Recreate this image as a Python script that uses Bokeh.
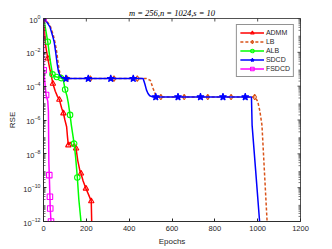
import math
from bokeh.plotting import figure
from bokeh.models import FixedTicker, LogTickFormatter
from bokeh.embed import file_html
from bokeh.resources import INLINE

# ---------------- data (epochs, RSE) ----------------
admm_epochs = [0, 5, 10, 20, 28, 35, 44, 55, 65, 74, 85, 93, 100, 108, 112, 116, 125, 135,
               145, 152, 160, 170, 175, 185, 198, 210, 223, 225, 226]
admm_rse = [1.0, 1.6e-1, 2.5e-2, 4.4e-3, 1.3e-3, 5.0e-4, 1.4e-4, 5.0e-5, 2.5e-5, 1.6e-5,
            5.0e-6, 2.5e-6, 1.0e-6, 4.0e-7, 1.0e-7, 3.2e-8, 5.0e-8, 2.8e-8, 4.0e-8, 2.1e-8,
            4.0e-9, 1.0e-9, 6.9e-10, 2.5e-10, 8.9e-11, 4.0e-11, 1.6e-11, 1.0e-12, 1.0e-13]
admm_marks = [0, 3, 6, 9, 11, 15, 19, 22, 24, 26]

lb_epochs = [0, 15, 32, 46, 55, 62, 68, 75, 85, 100, 110, 219, 329, 438, 481, 499, 512, 527,
             548, 657, 767, 876, 986, 1000, 1010, 1020, 1044, 1050]
lb_rse = [1.0, 7.1e-1, 3.5e-1, 1.0e-1, 3.2e-2, 1.0e-2, 2.5e-3, 7.1e-4, 3.5e-4, 2.8e-4,
          2.8e-4, 2.8e-4, 2.8e-4, 2.8e-4, 2.8e-4, 2.2e-4, 7.2e-5, 2.3e-5,
          2.3e-5, 2.3e-5, 2.3e-5, 2.3e-5, 2.3e-5, 1.3e-5, 3.5e-6, 5.0e-7, 1.0e-12, 1.0e-13]
lb_marks = [0, 10, 11, 12, 13, 18, 19, 20, 21, 22]

alb_epochs = [0, 8, 20, 31, 42, 50, 62, 75, 82, 92, 101, 110, 116, 124, 130, 143, 150, 158,
              165, 175, 180]
alb_rse = [1.0, 3.2e-1, 4.2e-2, 3.5e-3, 5.0e-4, 3.7e-4, 3.5e-4, 3.2e-4, 3.0e-4, 2.5e-4,
           6.3e-5, 2.5e-5, 1.0e-5, 2.0e-6, 5.0e-7, 4.0e-8, 6.3e-9, 4.0e-10, 2.0e-11,
           1.0e-12, 1.0e-13]
alb_marks = [0, 2, 4, 6, 8, 10, 13, 15, 17]

sdcd_epochs = [0, 15, 30, 42, 50, 57, 63, 70, 78, 90, 105, 209, 314, 419, 465, 473, 481, 488,
               496, 512, 524, 628, 733, 838, 942, 971, 974, 990, 1009, 1015]
sdcd_rse = [1.0, 6.3e-1, 3.2e-1, 1.0e-1, 4.0e-2, 1.0e-2, 2.5e-3, 7.1e-4, 4.0e-4, 3.0e-4,
            2.8e-4, 2.8e-4, 2.8e-4, 2.8e-4, 2.8e-4, 1.4e-4, 5.8e-5, 3.7e-5, 2.7e-5, 2.3e-5,
            2.3e-5, 2.3e-5, 2.3e-5, 2.3e-5, 2.3e-5, 2.3e-5, 5.0e-7, 1.3e-9, 1.0e-12, 1.0e-13]
sdcd_marks = [0, 10, 11, 12, 13, 20, 21, 22, 23, 24]

fsdcd_epochs = [0, 1, 12, 20, 23, 25, 27, 30, 31.5, 35, 36]
fsdcd_rse = [1.0, 8.7e-4, 3.0e-5, 1.3e-5, 3.2e-6, 3.2e-9, 5.5e-10, 2.9e-11, 5.9e-12,
             1.0e-12, 1.0e-13]
fsdcd_marks = [0, 1, 2, 6, 7, 8, 9]

x_ticks = [0, 200, 400, 600, 800, 1000, 1200]
y_ticks = [1e-12, 1e-10, 1e-8, 1e-6, 1e-4, 1e-2, 1e0]
title_text = "m = 256,n = 1024,s = 10"

series = [
    ("ADMM", admm_epochs, admm_rse, admm_marks, "#FF0000", "solid", "triangle", None),
    ("LB", lb_epochs, lb_rse, lb_marks, "#D95319", "3 2", "diamond", None),
    ("ALB", alb_epochs, alb_rse, alb_marks, "#00FF00", "solid", "circle", None),
    ("SDCD", sdcd_epochs, sdcd_rse, sdcd_marks, "#0000FF", "solid", "star", "#0000FF"),
    ("FSDCD", fsdcd_epochs, fsdcd_rse, fsdcd_marks, "#FF00FF", "solid", "square", None),
]

AX = "#262626"
FONT = "Liberation Sans"
X0, X1 = 0, 1200
Y0, Y1 = 1e-12, 1

p = figure(width=332, height=249, x_range=(X0, X1), y_range=(Y0, Y1),
           y_axis_type="log", output_backend="svg", toolbar_location=None,
           min_border_left=43, min_border_right=32, min_border_top=18, min_border_bottom=28)

p.title.text = title_text
p.title.align = "center"
p.title.text_font = "Liberation Serif"
p.title.text_font_style = "italic"
p.title.text_font_size = "8.5px"
p.title.text_color = "#000000"
p.title.standoff = 1
p.title.offset = 0

p.grid.visible = False
p.outline_line_color = AX
p.outline_line_width = 0.8
p.background_fill_color = "white"
p.border_fill_color = "white"

minor = [m * 10.0 ** k for k in range(-12, 0) for m in range(2, 10)]

xa = p.xaxis[0]
xa.ticker = FixedTicker(ticks=x_ticks)
xa.axis_label = "Epochs"
ya = p.yaxis[0]
ya.ticker = FixedTicker(ticks=y_ticks, minor_ticks=minor)
ya.formatter = LogTickFormatter()
ya.axis_label = "RSE"

for ax in (xa, ya):
    ax.axis_line_color = AX
    ax.axis_line_width = 0.8
    ax.major_tick_line_color = AX
    ax.minor_tick_line_color = AX
    ax.major_tick_in = 3
    ax.major_tick_out = 0
    ax.minor_tick_in = 2
    ax.minor_tick_out = 0
    ax.minor_tick_line_width = 0.6
    ax.major_label_text_font = FONT
    ax.major_label_text_font_size = "7.5px"
    ax.major_label_text_color = AX
    ax.major_label_standoff = 3
    ax.axis_label_text_font = FONT
    ax.axis_label_text_font_size = "8px"
    ax.axis_label_text_font_style = "normal"
    ax.axis_label_text_color = AX
    ax.axis_label_standoff = 3
xa.major_label_standoff = 4

# box ticks on the top and right edges (inward halves of dash markers, clipped by the frame)
p.scatter(x_ticks, [Y1] * len(x_ticks), marker="dash", angle=math.pi / 2, size=6,
          line_color=AX, line_width=0.8)
p.scatter([X1] * len(y_ticks), y_ticks, marker="dash", size=6, line_color=AX, line_width=0.8)
p.scatter([X1] * len(minor), minor, marker="dash", size=4, line_color=AX, line_width=0.6)

for name, xs, ys, marks, color, dash, marker, fill in series:
    p.line(xs, ys, line_color=color, line_width=1.5, line_dash=dash, legend_label=name)
    mx = [xs[i] for i in marks]
    my = [ys[i] for i in marks]
    size = 7.5 if marker == "star" else 5.5
    p.scatter(mx, my, marker=marker, size=size, line_color=color, line_width=1.1,
              fill_color=fill, legend_label=name)

lg = p.legend[0]
lg.location = "top_right"
lg.margin = 6
lg.padding = 3
lg.spacing = 0
lg.glyph_width = 24
lg.glyph_height = 9
lg.label_height = 9
lg.label_standoff = 2
lg.label_text_font = FONT
lg.label_text_font_size = "7px"
lg.label_text_color = AX
lg.border_line_color = AX
lg.border_line_width = 0.8
lg.background_fill_alpha = 1.0

open("out.html", "w").write(file_html(p, INLINE))
